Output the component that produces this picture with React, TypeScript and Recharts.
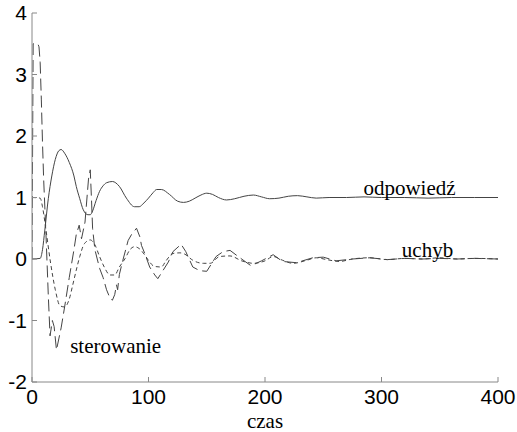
import React from 'react';
import { LineChart, Line, XAxis, YAxis, ReferenceDot } from 'recharts';

// odpowiedź (solid)
const odpT = [0, 7, 9, 11, 14, 17, 20, 23, 25, 28, 32, 36, 38, 41, 44, 48, 50, 52, 55, 58, 61, 64, 69, 75, 81, 88, 92, 96, 100, 104, 107, 111, 118, 125, 130, 135, 140, 145, 150, 155, 160, 167, 174, 182, 190, 197, 204, 212, 220, 228, 236, 244, 255, 270, 285, 300, 320, 340, 360, 380, 400];
const odpV = [0, 0.01, 0.15, 0.47, 0.98, 1.35, 1.62, 1.76, 1.78, 1.72, 1.57, 1.35, 1.18, 0.98, 0.8, 0.72, 0.72, 0.78, 0.95, 1.1, 1.19, 1.24, 1.26, 1.18, 0.99, 0.85, 0.85, 0.91, 0.99, 1.08, 1.13, 1.13, 1.05, 0.94, 0.92, 0.94, 0.99, 1.04, 1.07, 1.05, 1.0, 0.96, 0.98, 1.02, 1.04, 1.01, 0.98, 0.99, 1.02, 1.03, 1.01, 0.99, 1.0, 1.0, 1.01, 1.0, 1.0, 0.99, 1.0, 1.0, 1.0];

// uchyb (short dash)
const uchT = [0, 7, 9, 12, 16, 20, 24, 28, 32, 35, 38, 41, 45, 50, 54, 58, 62, 67, 71, 75, 80, 84, 88, 92, 97, 101, 105, 111, 115, 121, 127, 131, 138, 147, 153, 161, 170, 180, 190, 200, 207, 215, 224, 236, 244, 253, 264, 275, 290, 305, 320, 335, 350, 365, 380, 400];
const uchV = [1.0, 0.99, 0.85, 0.47, -0.07, -0.5, -0.76, -0.78, -0.65, -0.42, -0.18, 0.04, 0.25, 0.31, 0.23, 0.04, -0.13, -0.26, -0.26, -0.13, 0.01, 0.15, 0.2, 0.17, 0.06, -0.05, -0.12, -0.13, -0.03, 0.09, 0.1, 0.08, -0.02, -0.07, -0.07, 0.04, 0.05, -0.03, -0.07, -0.03, 0.04, -0.02, -0.07, -0.02, 0.02, -0.01, -0.04, 0.0, 0.02, -0.01, 0.01, 0.0, 0.02, 0.0, 0.01, 0.0];

// sterowanie (long dash)
const sterT = [0, 1, 5, 6, 7, 8, 9, 10, 12, 14, 15.5, 17.5, 19, 21, 23, 25, 28, 32, 36, 38, 40.5, 42.5, 45.5, 48.5, 50, 51, 52, 54, 58, 61, 64, 67, 69, 71, 72.5, 73.5, 75, 78, 82.5, 85.5, 89.7, 92.6, 94, 97, 101, 105.4, 108, 112, 117, 121, 128, 132, 138, 144, 150, 158, 164, 170, 177, 188, 197, 207, 215, 227, 241, 250, 261, 275, 290, 305, 320, 335, 350, 365, 380, 400];
const sterV = [0, 3.5, 3.5, 3.45, 3.2, 2.6, 1.9, 1.3, 0.4, -0.6, -1.25, -1.0, -1.1, -1.48, -1.3, -1.12, -0.78, -0.3, 0.15, 0.4, 0.55, 0.33, 0.6, 1.3, 1.45, 1.0, 0.5, 0.15, -0.15, -0.3, -0.5, -0.64, -0.67, -0.58, -0.42, -0.5, -0.25, -0.02, 0.3, 0.4, 0.5, 0.36, 0.22, 0.08, -0.13, -0.26, -0.32, -0.2, -0.05, 0.12, 0.24, 0.12, -0.13, -0.19, -0.2, 0.04, 0.12, 0.14, 0.04, -0.11, -0.03, 0.07, -0.04, -0.06, 0.02, 0.03, -0.03, 0.0, 0.02, -0.01, 0.01, 0.0, 0.01, 0.0, 0.01, 0.0];

const xTicks = [0, 100, 200, 300, 400];
const yTicks = [-2, -1, 0, 1, 2, 3, 4];

const toPoints = (t: number[], v: number[]) => t.map((x, i) => ({ t: x, v: v[i] }));

const tickFont = { fontSize: 21, fontFamily: '"Liberation Sans", Arial, sans-serif', fill: '#000' };
const serif = '"Liberation Serif", "Times New Roman", serif';
const axisColor = '#888';
const lineColor = '#444';

export default function App() {
    const odp = toPoints(odpT, odpV);
    const uch = toPoints(uchT, uchV);
    const ster = toPoints(sterT, sterV);

    return (
        <div style={{ position: 'absolute', left: 0, top: 0, background: '#fff' }}>
            <LineChart width={517} height={432} margin={{ top: 13, right: 19, left: 0, bottom: 0 }}>
                <XAxis
                    dataKey="t" type="number" domain={[0, 400]} ticks={xTicks} allowDataOverflow
                    height={50} tickSize={-5} tickMargin={12} tick={tickFont}
                    stroke={axisColor} tickLine={{ stroke: axisColor }}
                    label={{ value: 'czas', position: 'insideBottom', offset: 4, fontSize: 21, fontFamily: serif, fill: '#000' }}
                />
                <XAxis
                    xAxisId="top" orientation="top" dataKey="t" type="number" domain={[0, 400]} ticks={xTicks}
                    allowDataOverflow height={0} tickSize={-5} tickFormatter={() => ''}
                    stroke={axisColor} tickLine={{ stroke: axisColor }}
                />
                <YAxis
                    type="number" domain={[-2, 4]} ticks={yTicks} allowDataOverflow width={32}
                    tickSize={-5} tickMargin={10} tick={tickFont}
                    stroke={axisColor} tickLine={{ stroke: axisColor }}
                />
                <YAxis
                    yAxisId="right" orientation="right" type="number" domain={[-2, 4]} ticks={yTicks}
                    allowDataOverflow width={0} tickSize={-5} tickFormatter={() => ''}
                    stroke={axisColor} tickLine={{ stroke: axisColor }}
                />
                <Line data={ster} dataKey="v" type="linear" stroke={lineColor} strokeWidth={1}
                    strokeDasharray="12 5" dot={false} isAnimationActive={false} />
                <Line data={uch} dataKey="v" type="monotone" stroke={lineColor} strokeWidth={1}
                    strokeDasharray="4 3" dot={false} isAnimationActive={false} />
                <Line data={odp} dataKey="v" type="monotone" stroke={lineColor} strokeWidth={1}
                    dot={false} isAnimationActive={false} />
                <ReferenceDot x={324} y={1.17} r={0} fill="none" stroke="none"
                    label={{ value: 'odpowiedź', position: 'center', fontSize: 21, fontFamily: serif, fill: '#000' }} />
                <ReferenceDot x={339.5} y={0.15} r={0} fill="none" stroke="none"
                    label={{ value: 'uchyb', position: 'center', fontSize: 21, fontFamily: serif, fill: '#000' }} />
                <ReferenceDot x={71.8} y={-1.4} r={0} fill="none" stroke="none"
                    label={{ value: 'sterowanie', position: 'center', fontSize: 21, fontFamily: serif, fill: '#000' }} />
            </LineChart>
        </div>
    );
}
